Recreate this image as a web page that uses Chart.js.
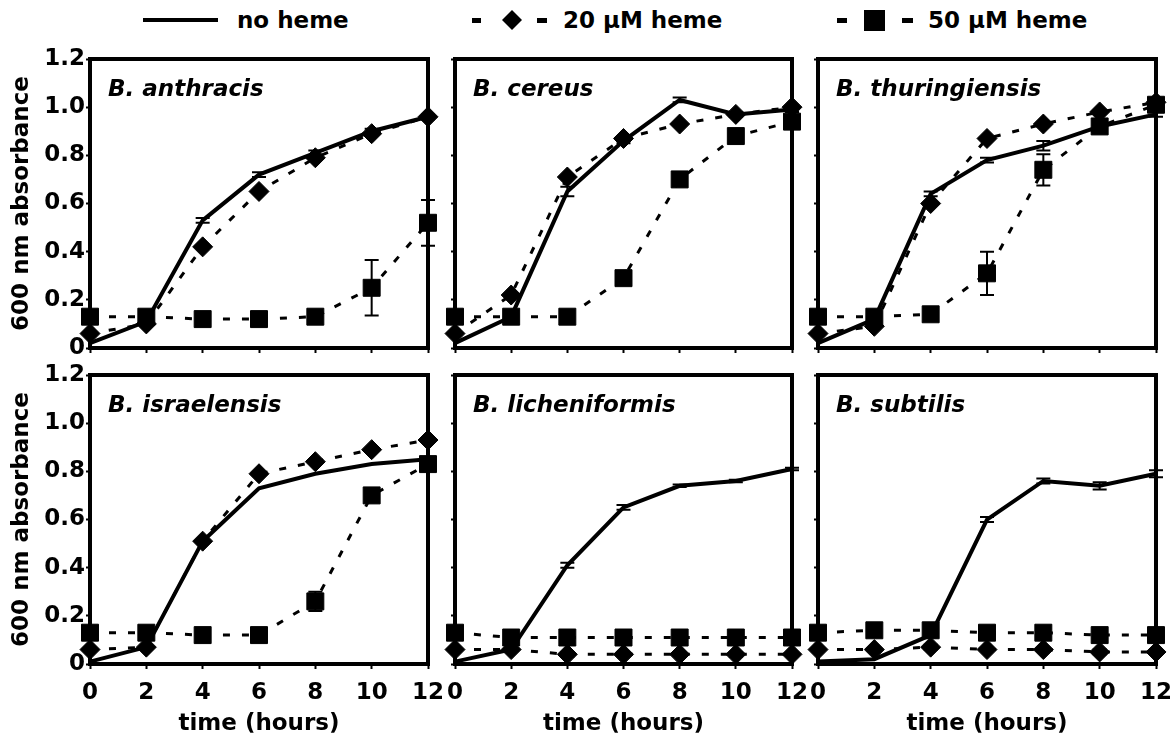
<!DOCTYPE html>
<html><head><meta charset="utf-8">
<script src="https://cdn.jsdelivr.net/npm/chart.js@4.4.0/dist/chart.umd.min.js"></script>
<style>
body{margin:0;background:#fff;width:1174px;height:740px;overflow:hidden;position:relative;font-family:"DejaVu Sans",sans-serif;color:#000;}
.panel{position:absolute;}
.leg{position:absolute;top:7px;font-weight:bold;font-size:23px;line-height:27px;white-space:nowrap;}
.ptitle{position:absolute;font-weight:bold;font-style:italic;font-size:23px;line-height:27px;white-space:nowrap;}
</style></head><body>

<svg style="position:absolute;left:0;top:0" width="1174" height="45">
  <line x1="143" y1="20" x2="218" y2="20" stroke="#000" stroke-width="4"/>
  <rect x="472" y="18" width="9" height="5" fill="#000"/>
  <polygon points="512,10 522,20 512,30 502,20" fill="#000"/>
  <rect x="537" y="18" width="10" height="5" fill="#000"/>
  <rect x="837" y="18" width="10" height="5" fill="#000"/>
  <rect x="864" y="10" width="21" height="21" fill="#000"/>
  <rect x="902" y="18" width="11" height="5" fill="#000"/>
</svg>
<div class="leg" style="left:237px">no heme</div>
<div class="leg" style="left:563px">20 μM heme</div>
<div class="leg" style="left:928px">50 μM heme</div>

<script>
// ---- data ----
const hours = [0, 2, 4, 6, 8, 10, 12];
const xTickLabels = ['0', '2', '4', '6', '8', '10', '12'];
const yTickValues = [0, 0.2, 0.4, 0.6, 0.8, 1.0, 1.2];
const yTickLabels = ['0', '0.2', '0.4', '0.6', '0.8', '1.0', '1.2'];
const seriesNames = ['no heme', '20 μM heme', '50 μM heme'];

const anthracisNo  = [0.02, 0.11, 0.53, 0.72, 0.81, 0.90, 0.96];
const anthracis20  = [0.06, 0.10, 0.42, 0.65, 0.79, 0.89, 0.96];
const anthracis50  = [0.13, 0.13, 0.12, 0.12, 0.13, 0.25, 0.52];
const anthracisNoErr = [0, 0, 0.01, 0.01, 0.01, 0.01, 0.01];
const anthracis50Err = [0, 0, 0, 0, 0, 0.115, 0.095];

const cereusNo  = [0.02, 0.13, 0.65, 0.86, 1.03, 0.97, 0.99];
const cereus20  = [0.06, 0.22, 0.71, 0.87, 0.93, 0.97, 1.00];
const cereus50  = [0.13, 0.13, 0.13, 0.29, 0.70, 0.88, 0.94];
const cereusNoErr = [0, 0, 0.02, 0.01, 0.01, 0.01, 0.01];

const thuringiensisNo  = [0.02, 0.12, 0.64, 0.78, 0.84, 0.92, 0.97];
const thuringiensis20  = [0.06, 0.09, 0.60, 0.87, 0.93, 0.98, 1.02];
const thuringiensis50  = [0.13, 0.13, 0.14, 0.31, 0.74, 0.92, 1.01];
const thuringiensisNoErr = [0, 0, 0.01, 0.01, 0.02, 0.01, 0.01];
const thuringiensis50Err = [0, 0, 0.01, 0.09, 0.065, 0.01, 0.02];

const israelensisNo  = [0.01, 0.07, 0.51, 0.73, 0.79, 0.83, 0.85];
const israelensis20  = [0.06, 0.07, 0.51, 0.79, 0.84, 0.89, 0.93];
const israelensis50  = [0.13, 0.13, 0.12, 0.12, 0.26, 0.70, 0.83];
const israelensis50Err = [0, 0, 0, 0, 0.04, 0.01, 0.01];

const licheniformisNo  = [0.01, 0.06, 0.41, 0.65, 0.74, 0.76, 0.81];
const licheniformis20  = [0.06, 0.06, 0.04, 0.04, 0.04, 0.04, 0.04];
const licheniformis50  = [0.13, 0.11, 0.11, 0.11, 0.11, 0.11, 0.11];
const licheniformisNoErr = [0, 0, 0.01, 0.01, 0.005, 0.005, 0.005];
const licheniformis20Err = [0, 0, 0.01, 0.005, 0.005, 0.01, 0.005];
const licheniformis50Err = [0, 0, 0.01, 0.005, 0.005, 0.01, 0.005];

const subtilisNo  = [0.01, 0.02, 0.12, 0.60, 0.76, 0.74, 0.79];
const subtilis20  = [0.06, 0.06, 0.07, 0.06, 0.06, 0.05, 0.05];
const subtilis50  = [0.13, 0.14, 0.14, 0.13, 0.13, 0.12, 0.12];
const subtilisNoErr = [0, 0, 0.01, 0.01, 0.01, 0.015, 0.015];
const subtilis20Err = [0, 0, 0.01, 0, 0, 0.01, 0];
const subtilis50Err = [0, 0, 0.01, 0, 0, 0.01, 0];

const panels = [
  {title: 'B. anthracis', no: anthracisNo, h20: anthracis20, h50: anthracis50, eNo: anthracisNoErr, e20: null, e50: anthracis50Err, row: 0, col: 0},
  {title: 'B. cereus', no: cereusNo, h20: cereus20, h50: cereus50, eNo: cereusNoErr, e20: null, e50: null, row: 0, col: 1},
  {title: 'B. thuringiensis', no: thuringiensisNo, h20: thuringiensis20, h50: thuringiensis50, eNo: thuringiensisNoErr, e20: null, e50: thuringiensis50Err, row: 0, col: 2},
  {title: 'B. israelensis', no: israelensisNo, h20: israelensis20, h50: israelensis50, eNo: null, e20: null, e50: israelensis50Err, row: 1, col: 0},
  {title: 'B. licheniformis', no: licheniformisNo, h20: licheniformis20, h50: licheniformis50, eNo: licheniformisNoErr, e20: licheniformis20Err, e50: licheniformis50Err, row: 1, col: 1},
  {title: 'B. subtilis', no: subtilisNo, h20: subtilis20, h50: subtilis50, eNo: subtilisNoErr, e20: subtilis20Err, e50: subtilis50Err, row: 1, col: 2}
];

// ---- layout ----
const colLeft = [90, 455, 818], colRight = [428, 792, 1156];
const rowTop = [59, 375], rowBottom = [348, 664];
const FONT = {family: 'DejaVu Sans', weight: 'bold', size: 23};

const framePlugin = {
  id: 'frame',
  beforeDatasetsDraw(chart) {
    const {ctx, chartArea: a} = chart;
    ctx.save();
    ctx.strokeStyle = '#000';
    ctx.lineWidth = 4;
    ctx.strokeRect(a.left, a.top, a.right - a.left, a.bottom - a.top);
    ctx.restore();
  }
};
const errPlugin = {
  id: 'errbars',
  afterDatasetsDraw(chart) {
    const {ctx} = chart;
    const xs = chart.scales.x, ys = chart.scales.y;
    ctx.save();
    ctx.strokeStyle = '#000';
    ctx.lineWidth = 2;
    chart.data.datasets.forEach(ds => {
      if (!ds.errors) return;
      ds.data.forEach((p, i) => {
        const e = ds.errors[i];
        if (!e) return;
        const x = xs.getPixelForValue(p.x);
        const yt = ys.getPixelForValue(p.y + e), yb = ys.getPixelForValue(p.y - e);
        ctx.beginPath();
        ctx.moveTo(x, yt); ctx.lineTo(x, yb);
        ctx.moveTo(x - 7, yt); ctx.lineTo(x + 7, yt);
        ctx.moveTo(x - 7, yb); ctx.lineTo(x + 7, yb);
        ctx.stroke();
      });
    });
    ctx.restore();
  }
};

const toXY = arr => hours.map((h, i) => ({x: h, y: arr[i]}));

panels.forEach(p => {
  const axisW = p.col === 0 ? 90 : 40;
  const padT = 16, padR = 18;
  const axisH = p.row === 1 ? 78 : 14;
  const W = colRight[p.col] - colLeft[p.col];
  const H = rowBottom[p.row] - rowTop[p.row];
  const div = document.createElement('div');
  div.className = 'panel';
  div.style.left = (colLeft[p.col] - axisW) + 'px';
  div.style.top = (rowTop[p.row] - padT) + 'px';
  const cv = document.createElement('canvas');
  cv.width = axisW + W + padR;
  cv.height = padT + H + axisH;
  cv.style.width = cv.width + 'px';
  cv.style.height = cv.height + 'px';
  div.appendChild(cv);
  document.body.appendChild(div);

  const t = document.createElement('div');
  t.className = 'ptitle';
  t.textContent = p.title;
  t.style.left = (colLeft[p.col] + 18) + 'px';
  t.style.top = (rowTop[p.row] + 16) + 'px';
  document.body.appendChild(t);

  new Chart(cv, {
    type: 'line',
    data: {
      datasets: [
        {label: seriesNames[0], data: toXY(p.no), errors: p.eNo, borderColor: '#000', borderWidth: 4,
          pointRadius: 0, tension: 0, clip: false},
        {label: seriesNames[1], data: toXY(p.h20), errors: p.e20, borderColor: '#000', borderWidth: 3,
          borderDash: [7, 12], pointStyle: 'rectRot', pointRadius: 10, pointBackgroundColor: '#000',
          pointBorderColor: '#000', pointBorderWidth: 1, tension: 0, clip: false},
        {label: seriesNames[2], data: toXY(p.h50), errors: p.e50, borderColor: '#000', borderWidth: 3,
          borderDash: [7, 12], pointStyle: 'rect', pointRadius: 12, pointBackgroundColor: '#000',
          pointBorderColor: '#000', pointBorderWidth: 1, tension: 0, clip: false}
      ]
    },
    options: {
      responsive: false, animation: false, devicePixelRatio: 1,
      layout: {padding: {top: padT, right: padR, left: 0, bottom: 0}},
      plugins: {legend: {display: false}, tooltip: {enabled: false}},
      scales: {
        x: {
          type: 'linear', min: 0, max: 12,
          afterBuildTicks: s => { s.ticks = hours.map(v => ({value: v})); },
          ticks: {display: p.row === 1, autoSkip: false, maxRotation: 0, color: '#000', font: FONT, padding: 10,
            callback: v => xTickLabels[hours.indexOf(v)]},
          grid: {display: true, drawOnChartArea: false, drawTicks: true, tickLength: 5, tickWidth: 2, color: '#000'},
          border: {display: true, width: 4, color: '#000'},
          title: {display: p.row === 1, text: 'time (hours)', color: '#000', font: FONT, padding: {top: 0, bottom: 4}},
          afterFit: s => { s.height = axisH; s.paddingLeft = 0; s.paddingRight = 0; s.paddingTop = 0; s.paddingBottom = 0; }
        },
        y: {
          min: 0, max: 1.2,
          afterBuildTicks: s => { s.ticks = yTickValues.map(v => ({value: v})); },
          ticks: {display: p.col === 0, color: '#000', font: FONT, padding: 1,
            callback: (v, i) => yTickLabels[i]},
          grid: {display: true, drawOnChartArea: false, drawTicks: true, tickLength: 4, tickWidth: 2, color: '#000'},
          border: {display: true, width: 4, color: '#000'},
          title: {display: p.col === 0, text: '600 nm absorbance', color: '#000', font: FONT, padding: {top: 8, bottom: 0}},
          afterFit: s => { s.width = axisW; s.paddingLeft = 0; s.paddingRight = 0; s.paddingTop = 0; s.paddingBottom = 0; }
        }
      }
    },
    plugins: [framePlugin, errPlugin]
  });
});
</script>
</body></html>
